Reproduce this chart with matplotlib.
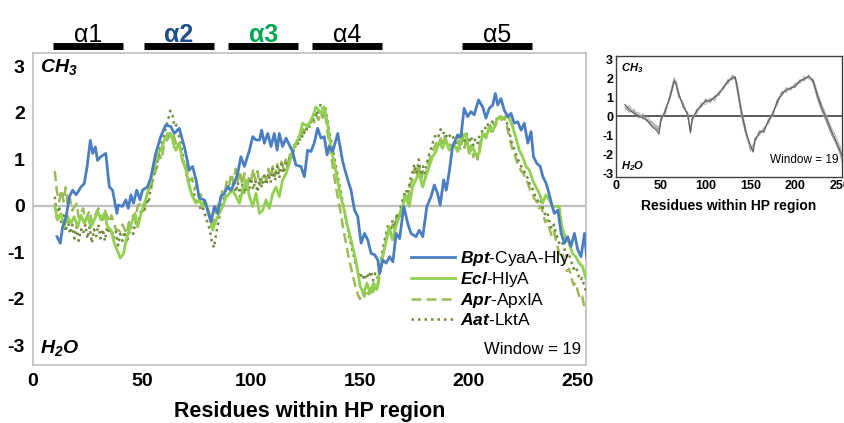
import matplotlib
matplotlib.use("Agg")
import matplotlib.pyplot as plt
from matplotlib import font_manager
from matplotlib.transforms import blended_transform_factory

# ---- data ----
bpt_x = [11, 12.5, 13.6, 15.2, 16.7, 18.2, 19.8, 22, 23.5, 24.8, 26.3, 27.4, 28.6, 29.6, 31.1, 33.4, 35, 36.5,
         38.5, 39.1, 41, 42.6, 43.7, 44.9, 46.1, 47.6, 49.1, 50.2, 52.5, 54, 56.3, 58.6, 60.9, 63.2, 64.8, 67.1,
         68.6, 69.4, 71.7, 73.2, 74.8, 76.3, 78.6, 80.1, 81.7, 83.2, 84.7, 86.2, 87.8, 89.3, 90.8, 92.4, 93.9,
         95.4, 97, 99.3, 100.8, 102.3, 103.9, 104.9, 106.1, 107.7, 109.2, 110.7, 112, 113, 114.5, 116.1, 117.6,
         119.1, 120.6, 122.9, 124.5, 126, 127.5, 129, 130.6, 132.1, 133.6, 134.9, 135.9, 137.5, 139.8, 142.1,
         144.4, 145.9, 147.5, 149, 150.5, 152.1, 153.6, 155.1, 156.7, 158.2, 159, 160.5, 162, 163.6, 165.1,
         166.6, 168.2, 170.1, 171.9, 173.4, 175.7, 177.2, 178.8, 180.7, 182.6, 184.1, 185.6, 186.8, 188.4,
         189.6, 191, 192.5, 194.8, 196.3, 197.8, 199.4, 200.9, 202.4, 204.4, 206.3, 207.8, 209.3, 210.9, 212.1,
         213.2, 214.7, 216.2, 217.8, 219.3, 220.8, 222.4, 223.9, 225.4, 227, 228.5, 229.6, 231.1, 232.7, 233.9,
         235.4, 236.9, 238.2, 239.2, 240.8, 242.3, 243.8, 245.3, 246.8, 248.4, 249.9, 251.4, 253, 254]
bpt_y = [-0.66, -0.8, -0.45, -0.23, 0.2, 0.34, 0.24, 0.41, 0.48, 0.84, 1.41, 1.13, 1.27, 0.98, 1.06, 1.13, 0.41, 0.34,
         -0.16, 0.02, -0.01, 0.13, -0.05, 0.24, 0.06, 0.34, 0.13, 0.34, 0.41, 0.6, 1.13, 1.49, 1.74, 1.71, 1.56, 1.67,
         1.42, 1.28, 0.77, 0.85, 0.56, 0.17, 0.13, -0.09, -0.34, -0.01, -0.16, 0.2, 0.27, 0.42, 0.34, 0.49, 0.7,
         1.06, 0.85, 1.2, 1.49, 1.42, 1.42, 1.63, 1.35, 1.56, 1.28, 1.56, 1.2, 1.56, 1.28, 1.46, 1.31,
         1.17, 0.88, 0.85, 0.63, 1.2, 1.17, 1.35, 1.67, 1.46, 1.49, 1.1, 1.28, 1.17, 1.56, 0.95,
         0.56, 0.34, -0.09, -0.23, -0.8, -0.59, -0.73, -1.02, -1.05, -1.16, -1.45, -1.16, -1.23, -1.09, -1.2,
         -0.59, -0.7, -0.01, -0.37, -0.59, -0.66, -0.52, -0.66, -0.01, 0.2, 0.45, 0.27, 0.02, 0.56,
         0.34, 0.75, 1.28, 1.53, 1.49, 2.1, 1.92, 2.03, 1.96, 2.28, 2.13, 1.89, 2.1, 2.17, 2.42,
         2.17, 2.31, 2.06, 1.92, 1.99, 1.78, 1.81, 1.63, 1.78, 1.35, 1.6, 1.06, 0.92, 0.85, 0.63,
         0.49, 0.24, -0.01, -0.16, -0.09, -0.59, -0.8, -0.66, -0.87, -0.59, -0.94, -1.09, -0.59, -1.1]

ecl_x = [10, 11.3, 12.8, 14.3, 15.9, 17.4, 18.9, 20.5, 22, 23.5, 25.1, 26.6, 28.1, 29.7, 31.2, 32.7, 34.2, 35.8,
         37.3, 38.5, 40.1, 41.6, 42.7, 44.2, 45.7, 46.8, 48, 49.6, 51.1, 52.6, 54.1, 55.7, 57.2, 58.7, 60.2, 61.8,
         63.3, 64.8, 65.6, 67.1, 68.6, 70.2, 71.7, 73.2, 74.8, 76.3, 77.8, 79.4, 80.9, 82.4, 84, 85.5, 87, 88.6,
         90.1, 91.6, 93.2, 94.7, 96.2, 97.7, 99.3, 100.8, 102.3, 103.9, 105.4, 106.9, 108.4, 110, 111.5, 113,
         114.5, 116.1, 117.6, 119.1, 120.6, 122.2, 123.7, 126, 128.3, 129.8, 132.1, 133.6, 135.1, 136.6, 138.2,
         139.7, 141.2, 142.8, 144, 145.5, 147, 148.6, 150.1, 151.7, 153.2, 154.7, 156.2, 157.8, 158.8, 160.3,
         161.9, 163.4, 164.9, 166.4, 168, 169.5, 171, 172.6, 174.1, 175.6, 177.2, 178.7, 180.2, 181.8, 183.3,
         184.8, 186.4, 187.9, 189.4, 190.9, 193.2, 194.8, 196.3, 198.6, 200.1, 201.7, 203.2, 204.7, 206.3,
         207.8, 209.3, 210.9, 212.4, 213.9, 215.4, 217, 218.5, 220, 221.6, 223.1, 224.6, 226.2, 227.7, 229.2,
         230.7, 232.3, 233.8, 235.3, 236.8, 238.4, 239.9, 241.4, 242.6, 244.1, 246, 247.5, 249, 250.6, 252.1, 253.6]
ecl_y = [0.0, -0.3, -0.16, -0.45, -0.23, -0.37, -0.23, -0.45, -0.2, -0.37, -0.23, -0.45, -0.3, -0.12, -0.3, -0.16, -0.45, -0.52,
         -0.8, -0.94, -1.12, -1.02, -0.73, -0.52, -0.3, -0.16, -0.45, -0.16, 0.06, 0.27, 0.56, 0.84, 1.13, 1.2, 1.41, 1.56,
         1.55, 1.27, 1.2, 1.35, 0.99, 0.77, 0.42, 0.2, 0.06, 0.13, -0.01, 0.06, -0.16, -0.52, -0.3, -0.16, -0.01, 0.2,
         0.27, 0.34, 0.2, 0.06, 0.34, 0.56, 0.2, -0.01, 0.27, -0.16, -0.09, 0.13, -0.05, 0.27, 0.41, 0.2,
         0.56, 0.7, 0.92, 1.2, 1.35, 1.49, 1.78, 1.71, 1.92, 2.13, 1.99, 2.13, 1.78, 1.28, 0.92,
         0.56, 0.2, -0.09, -0.37, -0.66, -0.94, -1.3, -1.73, -1.88, -1.66, -1.88, -1.66, -1.8, -1.45, -1.09,
         -0.8, -0.45, -0.73, -0.45, -0.23, -0.01, 0.2, -0.01, 0.41, 0.56, 0.7, 0.41, 0.63, 0.85, 1.06,
         1.17, 1.38, 1.24, 1.42, 1.2, 1.31, 1.17, 1.42, 1.56, 1.13, 1.27, 1.1, 1.13, 1.56,
         1.46, 1.71, 1.6, 1.81, 1.92, 1.89, 1.92, 1.89, 1.71, 1.46, 1.2, 1.06, 0.85, 0.77, 0.56,
         0.41, 0.27, 0.06, 0.24, 0.13, -0.01, -0.01, -0.01, -0.45, -0.66, -0.8, -1.02, -1.09, -1.23, -1.3, -1.55]

apr_x = list(range(10, 255))
apr_y = [0.75, 0.3, 0.1, 0.35, 0.1, 0.4, 0.0, 0.15, -0.1, -0.02, 0.05, -0.25, -0.15, -0.05, -0.3, -0.2, -0.1, -0.35,
         -0.25, -0.15, -0.05, -0.2, -0.3, -0.1, -0.22, -0.35, -0.2, -0.35, -0.5, -0.52, -0.55, -0.4, -0.5, -0.6,
         -0.35, -0.28, -0.2, -0.3, 0.0, 0.05, 0.1, -0.05, 0.2, 0.35, 0.3, 0.6, 0.72, 0.85, 1.1, 1.0, 1.3, 1.38,
         1.45, 1.6, 1.55, 1.45, 1.25, 1.35, 1.1, 0.9, 0.95, 0.7, 0.55, 0.6, 0.35, 0.45, 0.2, 0.25, 0.05, 0.1,
         -0.1, -0.25, -0.45, -0.3, -0.1, 0.05, 0.15, 0.35, 0.3, 0.55, 0.45, 0.7, 0.5, 0.8, 0.55, 0.75, 0.45,
         0.7, 0.35, 0.6, 0.5, 0.8, 0.55, 0.75, 0.45, 0.58, 0.7, 0.55, 0.8, 0.6, 0.85, 0.65, 0.9, 0.75, 0.95,
         0.8, 1.0, 0.85, 1.15, 1.1, 1.35, 1.3, 1.5, 1.45, 1.65, 1.55, 1.75, 1.7, 1.9, 1.8, 1.95, 1.85, 2.0,
         1.9, 2.05, 1.6, 1.3, 1.0, 0.7, 0.4, 0.15, -0.1, -0.4, -0.65, -0.9, -1.15, -1.35, -1.55, -1.75, -1.9,
         -2.0, -1.85, -1.95, -1.8, -1.9, -1.75, -1.85, -1.7, -1.8, -1.5, -1.2, -0.95, -0.7, -0.45, -0.6, -0.4,
         -0.5, -0.2, -0.3, 0.0, 0.1, 0.3, 0.15, 0.45, 0.55, 0.8, 0.6, 0.9, 0.55, 0.75, 0.6, 0.9, 1.0, 1.15,
         1.25, 1.35, 1.3, 1.45, 1.3, 1.5, 1.35, 1.32, 1.3, 1.28, 1.25, 1.4, 1.2, 1.45, 1.25, 1.5, 1.15, 1.3,
         1.05, 1.2, 1.0, 1.35, 1.45, 1.55, 1.5, 1.7, 1.6, 1.8, 1.7, 1.85, 1.9, 1.85, 1.9, 1.8, 1.6, 1.4, 1.2,
         1.1, 0.95, 0.85, 0.75, 0.7, 0.55, 0.5, 0.35, 0.3, 0.15, 0.1, -0.05, 0.0, -0.15, -0.35, -0.3, -0.5,
         -0.65, -0.55, -0.75, -0.95, -1.1, -1.05, -1.25, -1.4, -1.35, -1.55, -1.7, -1.65, -1.85, -2.0, -1.95,
         -2.2, -2.3]

aat_x = list(range(10, 255))
aat_y = [0.2, -0.3, 0.0, -0.4, -0.2, -0.55, -0.3, -0.6, -0.4, -0.7, -0.45, -0.75, -0.5, -0.6, -0.4, -0.7, -0.45,
         -0.8, -0.5, -0.65, -0.4, -0.7, -0.5, -0.75, -0.45, -0.6, -0.5, -0.7, -0.55, -0.85, -0.6, -0.75, -0.55,
         -0.8, -0.6, -0.45, -0.6, -0.35, -0.45, -0.2, -0.05, -0.15, 0.15, 0.05, 0.4, 0.6, 0.8, 0.95, 1.2, 1.35,
         1.5, 1.7, 1.85, 2.05, 1.95, 1.7, 1.75, 1.5, 1.3, 1.0, 0.8, 0.55, 0.4, 0.2, 0.25, 0.05, 0.1, -0.1,
         -0.05, -0.2, -0.35, -0.5, -0.75, -0.9, -0.6, -0.35, -0.1, 0.05, 0.25, 0.15, 0.4, 0.25, 0.55, 0.3,
         0.5, 0.2, 0.45, 0.25, 0.55, 0.3, 0.6, 0.35, 0.55, 0.3, 0.6, 0.4, 0.65, 0.45, 0.7, 0.5, 0.8, 0.55,
         0.85, 0.6, 0.9, 0.7, 0.95, 0.8, 1.1, 1.05, 1.3, 1.25, 1.45, 1.4, 1.6, 1.55, 1.75, 1.7, 1.9, 1.85,
         2.05, 1.95, 2.2, 2.1, 2.15, 1.85, 1.6, 1.35, 1.1, 0.85, 0.6, 0.35, 0.1, -0.15, -0.4, -0.65, -0.85,
         -1.05, -1.25, -1.4, -1.55, -1.45, -1.6, -1.45, -1.55, -1.4, -1.6, -1.45, -1.55, -1.35, -1.05, -0.8,
         -0.6, -0.4, -0.55, -0.3, -0.45, -0.15, -0.25, 0.05, 0.2, 0.35, 0.25, 0.55, 0.7, 0.9, 0.7, 1.0, 0.65,
         0.85, 0.7, 1.0, 1.15, 1.3, 1.45, 1.55, 1.5, 1.65, 1.55, 1.6, 1.45, 1.5, 1.55, 1.45, 1.35, 1.55, 1.3,
         1.6, 1.4, 1.55, 1.35, 1.5, 1.3, 1.45, 1.35, 1.55, 1.6, 1.7, 1.65, 1.8, 1.7, 1.85, 1.75, 1.9, 1.95,
         1.9, 1.95, 1.85, 1.7, 1.5, 1.3, 1.2, 1.05, 0.95, 0.85, 0.8, 0.65, 0.6, 0.45, 0.4, 0.25, 0.2, 0.05,
         0.1, -0.05, -0.2, -0.15, -0.35, -0.5, -0.4, -0.6, -0.75, -0.85, -0.8, -0.95, -1.1, -1.05, -1.2, -1.35,
         -1.3, -1.45, -1.6, -1.55, -1.75, -1.85]

series_labels = [r"$\mathbfit{Bpt}$-CyaA-Hly", r"$\mathbfit{Ecl}$-HlyA",
                 r"$\mathbfit{Apr}$-ApxIA", r"$\mathbfit{Aat}$-LktA"]

helix_names = ["α1", "α2", "α3", "α4", "α5"]
helix_start = [9.3, 51.0, 89.6, 128.1, 197.0]
helix_end = [41.2, 83.0, 121.7, 160.0, 228.7]

# inset: consensus of many windows, gray
inset_x = [10, 15, 20, 25, 30, 35, 40, 45, 48, 50, 55, 60, 65, 67, 70, 75, 80, 83, 85, 90, 95, 100, 105, 110,
           115, 120, 125, 130, 133, 135, 140, 145, 150, 153, 155, 160, 165, 170, 175, 180, 185, 190, 195, 200,
           205, 210, 215, 220, 225, 230, 235, 240, 245, 250, 253]
inset_a = [0.58, 0.4, 0.23, 0.05, -0.03, -0.2, -0.47, -0.65, -0.8, -0.2, 0.23, 1.0, 1.9, 1.72, 1.1, 0.58, 0.05,
           -0.9, -0.2, 0.23, 0.58, 0.75, 0.84, 0.93, 1.19, 1.54, 1.8, 2.07, 1.98, 1.54, 0.14, -0.9, -1.6, -1.7,
           -1.26, -0.9, -0.74, -0.3, 0.14, 0.75, 1.19, 1.37, 1.46, 1.63, 1.8, 1.98, 2.07, 1.8, 1.0, 0.32, -0.2,
           -0.8, -1.26, -1.8, -2.1]
inset_b = [0.3, 0.55, 0.1, 0.2, -0.15, -0.05, -0.35, -0.5, -0.6, -0.35, 0.4, 0.85, 1.75, 1.85, 1.25, 0.45, 0.2,
           -0.7, -0.05, 0.1, 0.7, 0.6, 0.95, 0.8, 1.3, 1.4, 1.95, 1.9, 2.1, 1.75, 0.35, -0.7, -1.85, -1.5, -1.4,
           -0.75, -0.9, -0.15, 0.0, 0.9, 1.05, 1.5, 1.35, 1.75, 1.7, 2.1, 1.95, 1.95, 1.2, 0.55, 0.0, -0.6, -1.05,
           -1.6, -2.4]
inset_c = [0.45, 0.2, 0.35, -0.1, 0.1, -0.3, -0.3, -0.55, -0.7, -0.1, 0.1, 1.1, 2.0, 1.6, 1.0, 0.7, -0.05, -0.8,
           -0.3, 0.35, 0.45, 0.9, 0.7, 1.05, 1.1, 1.6, 1.7, 2.15, 1.9, 1.4, 0.0, -1.0, -1.7, -1.8, -1.15, -1.0,
           -0.6, -0.4, 0.25, 0.6, 1.3, 1.25, 1.55, 1.5, 1.9, 1.85, 2.15, 1.7, 0.85, 0.2, -0.35, -0.95, -1.4, -2.0,
           -2.6]
inset_d = [0.6, 0.3, 0.15, 0.0, -0.1, -0.25, -0.55, -0.75, -0.95, -0.25, 0.3, 0.95, 1.85, 1.7, 1.15, 0.5, 0.1,
           -0.85, -0.15, 0.25, 0.55, 0.8, 0.8, 1.0, 1.2, 1.5, 1.85, 2.0, 2.05, 1.6, 0.2, -0.85, -1.55, -1.9, -1.3,
           -0.85, -0.8, -0.25, 0.1, 0.8, 1.15, 1.4, 1.45, 1.6, 1.85, 1.95, 2.1, 1.85, 1.05, 0.4, -0.15, -0.75, -1.3,
           -1.85, -2.2]

ticks_y = [-3, -2, -1, 0, 1, 2, 3]
ticks_x = [0, 50, 100, 150, 200, 250]

# ---- fonts ----
installed = {f.name for f in font_manager.fontManager.ttflist}
narrow = "Liberation Sans Narrow" if "Liberation Sans Narrow" in installed else "Liberation Sans"
plt.rcParams["font.family"] = ["Liberation Sans", "DejaVu Sans"]
plt.rcParams["axes.unicode_minus"] = False
plt.rcParams["mathtext.fontset"] = "custom"
plt.rcParams["mathtext.rm"] = "Liberation Sans"
plt.rcParams["mathtext.it"] = "Liberation Sans:italic"
plt.rcParams["mathtext.bf"] = "Liberation Sans:bold"
plt.rcParams["mathtext.bfit"] = "Liberation Sans:italic:bold"

fig = plt.figure(figsize=(8.45, 4.23), dpi=100)

# ---- main panel ----
ax = fig.add_axes([33 / 845, 1 - 365 / 423, 553 / 845, 312 / 423])
ax.axhline(0, color="#BFBFBF", lw=1.6, zorder=1)
ax.plot(bpt_x, bpt_y, color="#4A7EC0", lw=2.0, label=series_labels[0], zorder=5)
ax.plot(ecl_x, ecl_y, color="#92D050", lw=2.0, label=series_labels[1], zorder=4)
ax.plot(apr_x, apr_y, color="#9BBB59", lw=1.8, ls=(0, (4, 2)), label=series_labels[2], zorder=3)
ax.plot(aat_x, aat_y, color="#6E8B3D", lw=1.8, ls=(0, (1, 1.6)), label=series_labels[3], zorder=3)

ax.set_xlim(0, 253.7)
ax.set_ylim(-3.42, 3.29)
ax.set_xticks(ticks_x)
ax.set_yticks(ticks_y)
ax.tick_params(length=0, labelsize=14, pad=6)
for lab in ax.get_xticklabels() + ax.get_yticklabels():
    lab.set_fontfamily(narrow)
    lab.set_fontweight("bold")
for s in ax.spines.values():
    s.set_color("#BFBFBF")
    s.set_linewidth(1.2)

ax.set_xlabel("Residues within HP region", fontsize=15.5, fontweight="bold", family=narrow, labelpad=8)

ax.text(0.012, 0.955, r"$\mathbfit{CH_3}$", transform=ax.transAxes, fontsize=14, va="center", ha="left")
ax.text(0.012, 0.055, r"$\mathbfit{H_2O}$", transform=ax.transAxes, fontsize=14, va="center", ha="left")
ax.text(0.992, 0.05, "Window = 19", transform=ax.transAxes, fontsize=12, va="center", ha="right")

leg = ax.legend(loc="lower right", bbox_to_anchor=(0.99, 0.085), frameon=False, fontsize=12.5,
                handlelength=2.5, handletextpad=0.3, labelspacing=0.12, borderaxespad=0.2)

# helix bars above the panel
trans = blended_transform_factory(ax.transData, ax.transAxes)
helix_colors = ["black", "#1F4E8C", "#00A651", "black", "black"]
for i, name in enumerate(helix_names):
    ax.plot([helix_start[i], helix_end[i]], [1.021, 1.021], color="black", lw=5, solid_capstyle="butt",
            transform=trans, clip_on=False)
    bold = i in (1, 2)
    ax.text((helix_start[i] + helix_end[i]) / 2, 1.036, name, transform=trans, ha="center", va="baseline",
            fontsize=18, color=helix_colors[i], fontweight="bold" if bold else "normal")

# ---- inset ----
ins = fig.add_axes([616 / 845, 1 - 177 / 423, 226 / 845, 121 / 423])
ins.axhline(0, color="#404040", lw=1.2, zorder=1)
for ys, c in zip([inset_a, inset_b, inset_c, inset_d], ["#8C8C8C", "#B5B5B5", "#A0A0A0", "#5E5E5E"]):
    ins.plot(inset_x, ys, color=c, lw=0.8, zorder=3)
ins.set_xlim(11.7, 252.1)
ins.set_ylim(-3.21, 3.16)
ins.set_xticks(ticks_x)
ins.set_yticks(ticks_y)
ins.tick_params(length=0, labelsize=9, pad=2)
for lab in ins.get_xticklabels() + ins.get_yticklabels():
    lab.set_fontfamily(narrow)
    lab.set_fontweight("bold")
for s in ins.spines.values():
    s.set_color("#404040")
    s.set_linewidth(1.0)
ins.set_xlabel("Residues within HP region", fontsize=10, fontweight="bold", family=narrow, labelpad=5)
ins.text(0.02, 0.9, r"$\mathbfit{CH_3}$", transform=ins.transAxes, fontsize=8, va="center", ha="left")
ins.text(0.02, 0.09, r"$\mathbfit{H_2O}$", transform=ins.transAxes, fontsize=8, va="center", ha="left")
ins.text(0.985, 0.14, "Window = 19", transform=ins.transAxes, fontsize=8.5, va="center", ha="right")

fig.savefig("out.png", dpi=100)
